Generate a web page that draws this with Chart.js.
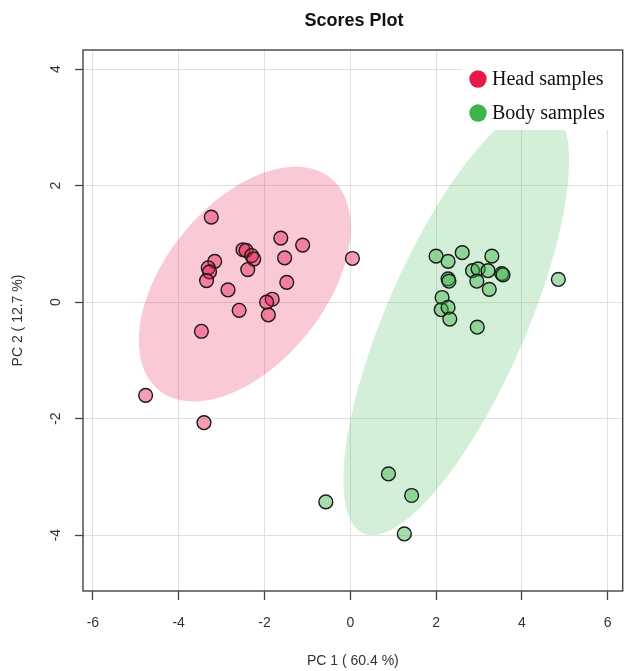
<!DOCTYPE html>
<html>
<head>
<meta charset="utf-8">
<title>Scores Plot</title>
<script src="https://cdn.jsdelivr.net/npm/chart.js@4.4.1/dist/chart.umd.min.js"></script>
<style>
  html, body { margin: 0; padding: 0; background: #fff; overflow: hidden; }
  #wrap { width: 625px; height: 671px; }
</style>
</head>
<body>
<div id="wrap"><canvas id="scores"></canvas></div>
<script>
// PC scores
const headPC1 = [-3.24, -1.62, -1.11, -2.50, -2.43, -2.30, -2.25, -1.53, -3.16, -3.31, -3.28, -3.35,
                 -2.39, 0.05, -1.48, -2.85, -1.82, -1.95, -2.59, -1.91, -3.47, -4.77, -3.41];
const headPC2 = [1.46, 1.10, 0.98, 0.90, 0.89, 0.80, 0.74, 0.76, 0.70, 0.59, 0.52, 0.37,
                 0.56, 0.75, 0.34, 0.21, 0.05, 0.00, -0.14, -0.22, -0.50, -1.60, -2.07];
const bodyPC1 = [2.00, 2.28, 2.61, 3.30, 2.28, 2.30, 2.85, 2.98, 3.21, 3.53, 3.56, 2.95,
                 3.24, 4.85, 2.14, 2.12, 2.28, 2.32, 2.96, 0.89, 1.43, 1.26, -0.57];
const bodyPC2 = [0.79, 0.70, 0.85, 0.79, 0.40, 0.36, 0.54, 0.57, 0.54, 0.49, 0.47, 0.36,
                 0.22, 0.39, 0.08, -0.13, -0.09, -0.29, -0.43, -2.95, -3.32, -3.98, -3.43];

// confidence ellipses: centre x, centre y, half-width x, half-height y, correlation
const headEllipse = [-2.46, 0.31, 2.47, 2.015, 0.482];
const bodyEllipse = [2.47, -0.31, 2.63, 3.69, 0.743];

const xTicks = [-6, -4, -2, 0, 2, 4, 6];
const yTicks = [-4, -2, 0, 2, 4];
const groupNames = ['Head samples', 'Body samples'];

const RED = '#e6194b';
const GREEN = '#3cb44b';
const PLOT_RIGHT = 623;

const toPoints = (xs, ys) => xs.map((v, i) => ({ x: v, y: ys[i] }));

function drawEllipse(chart, e, fill) {
    const ctx = chart.ctx;
    const sx = chart.scales.x, sy = chart.scales.y;
    const [cx, cy, ax, ay, r] = e;
    const k = Math.sqrt(1 - r * r);
    ctx.beginPath();
    for (let i = 0; i <= 180; i++) {
        const t = i / 180 * 2 * Math.PI;
        const px = sx.getPixelForValue(cx + ax * Math.cos(t));
        const py = sy.getPixelForValue(cy + ay * (r * Math.cos(t) + k * Math.sin(t)));
        if (i === 0) ctx.moveTo(px, py); else ctx.lineTo(px, py);
    }
    ctx.closePath();
    ctx.fillStyle = fill;
    ctx.fill();
}

const scoresPlugin = {
    id: 'scoresExtras',
    beforeDatasetsDraw(chart) {
        const { ctx, chartArea: a } = chart;
        ctx.save();
        ctx.beginPath();
        ctx.rect(a.left, a.top, a.right - a.left, a.bottom - a.top);
        ctx.clip();
        drawEllipse(chart, headEllipse, 'rgba(232, 30, 80, 0.24)');
        drawEllipse(chart, bodyEllipse, 'rgba(60, 180, 75, 0.22)');
        ctx.restore();
    },
    afterDatasetsDraw(chart) {
        const { ctx, chartArea: a } = chart;
        ctx.save();
        // legend box (white, covers grid)
        ctx.fillStyle = '#fff';
        ctx.fillRect(462, a.top, a.right - 462, 130 - a.top);
        ctx.font = '20px "Liberation Serif", "Times New Roman", serif';
        ctx.textBaseline = 'middle';
        ctx.textAlign = 'left';
        [RED, GREEN].forEach((c, i) => {
            const yy = 79 + i * 34;
            ctx.beginPath();
            ctx.arc(478, yy, 8.7, 0, 2 * Math.PI);
            ctx.fillStyle = c;
            ctx.fill();
            ctx.fillStyle = '#111';
            ctx.fillText(groupNames[i], 492, yy + 1);
        });
        // plot box
        ctx.strokeStyle = '#444';
        ctx.lineWidth = 1.4;
        ctx.strokeRect(a.left, a.top, a.right - a.left, a.bottom - a.top);
        // main title
        ctx.fillStyle = '#111';
        ctx.font = 'bold 18px "Liberation Sans", Arial, sans-serif';
        ctx.textAlign = 'center';
        ctx.fillText('Scores Plot', 354, 21);
        ctx.restore();
    }
};

const axisFont = { family: '"Liberation Sans", Arial, sans-serif', size: 14 };

const chart = new Chart(document.getElementById('scores'), {
    type: 'scatter',
    data: {
        datasets: [
            {
                label: groupNames[0],
                data: toPoints(headPC1, headPC2),
                backgroundColor: 'rgba(232, 25, 75, 0.42)',
                borderColor: '#1a1a1a',
                borderWidth: 1.4,
                pointRadius: 6.9,
                pointHoverRadius: 6.9
            },
            {
                label: groupNames[1],
                data: toPoints(bodyPC1, bodyPC2),
                backgroundColor: 'rgba(60, 180, 75, 0.45)',
                borderColor: '#1a1a1a',
                borderWidth: 1.4,
                pointRadius: 6.9,
                pointHoverRadius: 6.9
            }
        ]
    },
    options: {
        responsive: true,
        maintainAspectRatio: false,
        animation: false,
        layout: { padding: { top: 50, right: 2, left: 0, bottom: 0 } },
        plugins: {
            legend: { display: false },
            tooltip: { enabled: false }
        },
        scales: {
            x: {
                type: 'linear',
                min: -6.23,
                max: 6.35,
                afterBuildTicks: s => { s.ticks = xTicks.map(v => ({ value: v })); },
                afterFit: s => { s.height = 80; s.paddingLeft = 0; s.paddingRight = 0; },
                border: { display: false },
                grid: { color: '#e0e0e0', lineWidth: 1, tickColor: '#444', tickLength: 9, tickWidth: 1.3 },
                ticks: { font: axisFont, color: '#333', padding: 15, maxRotation: 0 },
                title: { display: true, text: 'PC 1 ( 60.4 %)', font: axisFont, color: '#333', padding: { top: 4, bottom: 1 } }
            },
            y: {
                type: 'linear',
                min: -4.96,
                max: 4.33,
                afterBuildTicks: s => { s.ticks = yTicks.map(v => ({ value: v })); },
                afterFit: s => { s.width = 83; },
                border: { display: false },
                grid: { color: '#e0e0e0', lineWidth: 1, tickColor: '#444', tickLength: 8, tickWidth: 1.3 },
                ticks: { font: axisFont, color: '#333', padding: 13, minRotation: 90, maxRotation: 90, crossAlign: 'center' },
                title: { display: true, text: 'PC 2 ( 12.7 %)', font: axisFont, color: '#333', padding: { top: 10, bottom: 0 } }
            }
        }
    },
    plugins: [scoresPlugin]
});

// chart.js keeps a few px spare on the right; widen the canvas (page clips it) so the plot edge lands at 623
const gap = Math.round(PLOT_RIGHT - chart.chartArea.right);
if (gap > 0) {
    document.getElementById('wrap').style.width = (625 + gap) + 'px';
    chart.resize();
}
</script>
</body>
</html>
